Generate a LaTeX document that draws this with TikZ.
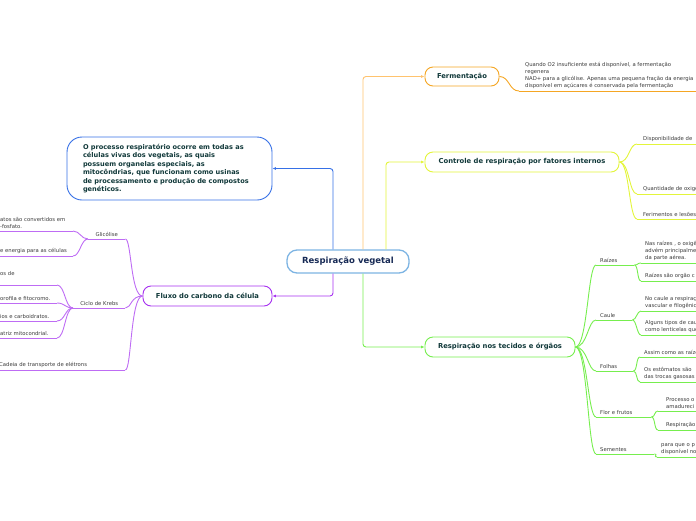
\documentclass[tikz,border=0pt]{standalone}
\usepackage{fontspec}
\setmainfont{DejaVu Sans}
\usetikzlibrary{arrows.meta}
\definecolor{rootline}{HTML}{7DB4E3}
\definecolor{rootink}{HTML}{172A55}
\definecolor{ink}{HTML}{11393A}
\definecolor{leafink}{HTML}{3A3A3A}
\definecolor{bluebr}{HTML}{3670E6}
\definecolor{purplebr}{HTML}{A630F0}
\definecolor{purplesoft}{HTML}{BE6CF4}
\definecolor{orangebr}{HTML}{F5A623}
\definecolor{orangesoft}{HTML}{FFC36E}
\definecolor{yellowbr}{HTML}{E3F53A}
\definecolor{greenbr}{HTML}{76EE4E}
\tikzset{
  box/.style     = {draw, line width=0.9pt, rectangle, rounded corners=8pt, fill=white,
                    inner sep=0pt, minimum height=20pt, text=ink,
                    font=\fontsize{6.8}{8}\selectfont\bfseries},
  rootbox/.style = {box, draw=rootline, line width=1.3pt, rounded corners=10pt, text=rootink,
                    minimum width=122pt, minimum height=23pt, font=\fontsize{8.5}{9}\selectfont\bfseries},
  conn/.style    = {-{Latex[length=3.5pt,width=3pt]}, line width=0.9pt, rounded corners=3pt},
  lbl/.style     = {font=\fontsize{5.3}{7}\selectfont, text=leafink, inner xsep=0pt, inner ysep=2pt,
                    anchor=south west},
  lblr/.style    = {lbl, inner xsep=4pt, align=left},
  leaf/.style    = {lbl, align=left, inner xsep=4pt},
  pleaf/.style   = {leaf, inner xsep=1pt},
  ptw/.style     = {draw=purplesoft, line width=0.9pt},
  otw/.style     = {draw=orangebr, line width=0.9pt},
  ytw/.style     = {draw=yellowbr, line width=0.9pt},
  gtw/.style     = {draw=greenbr, line width=0.9pt},
}
\begin{document}
\begin{tikzpicture}[x=1pt, y=-1pt]
  \useasboundingbox (0,0) rectangle (696,520);
  \clip (0,0) rectangle (696,520);

  \node[rootbox] (root) at (348,261.5) {Respiração vegetal};
  \node[box, draw=bluebr, rounded corners=15pt, minimum width=205pt, minimum height=63pt,
        text width=173pt, align=left, font=\fontsize{6.6}{8.4}\selectfont\bfseries] (proc) at (169.5,168.5)
    {O processo respiratório ocorre em todas as\\células vivas dos vegetais, as quais\\possuem organelas especiais, as\\mitocôndrias, que funcionam como usinas\\de processamento e produção de compostos\\genéticos.};
  \node[box, draw=purplebr, minimum width=129pt] (fluxo) at (207.5,296) {Fluxo do carbono da célula};
  \node[box, draw=orangebr, minimum width=74pt, minimum height=19pt] (ferm) at (462,76.5) {Fermentação};
  \node[box, draw=yellowbr, minimum width=194pt] (ctrl) at (522,162) {Controle de respiração por fatores internos};
  \node[box, draw=greenbr, minimum width=150pt] (tec) at (500,347) {Respiração nos tecidos e órgãos};

  \draw[conn, draw=bluebr] ([xshift=-15pt]root.north) |- (proc.east);
  \draw[conn, draw=purplebr] ([xshift=-15pt]root.south) |- (fluxo.east);
  \draw[conn, draw=orangesoft] ([xshift=15pt]root.north) |- (ferm.west);
  \draw[conn, draw=yellowbr] ([xshift=38pt]root.north) |- (ctrl.west);
  \draw[conn, draw=greenbr] ([xshift=15pt]root.south) |- (tec.west);

  % carbono
  \node[lbl, text width=37pt, align=center] (glic) at (88,239) {Glicólise};
  \node[lbl, text width=52pt, align=center] (krebs) at (73,308) {Ciclo de Krebs};
  \node[lbl, text width=126pt, align=left] (cadeia) at (-1,370) {Cadeia de transporte de elétrons};
  \draw[ptw] (glic.south west) -- (glic.south east);
  \draw[ptw] (krebs.south west) -- (krebs.south east);
  \draw[ptw] (cadeia.south west) -- (cadeia.south east);
  \draw[ptw] (fluxo.west) .. controls +(-12,0) and +(6,0) .. (glic.south east);
  \draw[ptw] (fluxo.west) .. controls +(-12,0) and +(6,0) .. (krebs.south east);
  \draw[ptw] (fluxo.west) .. controls +(-12,0) and +(6,0) .. (cadeia.south east);

  \node[pleaf] (gl1) at (-1,231) {atos são convertidos em\\-fosfato.};
  \node[pleaf] (gl2) at (-1,256) {e energia para as células};
  \coordinate (gl1e) at (73,231);
  \coordinate (gl2e) at (73,256);
  \draw[ptw] (gl1.south west) -- (gl1e);
  \draw[ptw] (gl2.south west) -- (gl2e);
  \draw[ptw] (glic.south west) .. controls +(-7,0) and +(7,0) .. (gl1e);
  \draw[ptw] (glic.south west) .. controls +(-7,0) and +(7,0) .. (gl2e);

  \node[pleaf] (kr1) at (-1,285) {os de\\\mbox{}};
  \node[pleaf] (kr2) at (-1,303) {orofila e fitocromo.};
  \node[pleaf] (kr3) at (-1,321) {ios e carboidratos.};
  \node[pleaf] (kr4) at (-1,338) {atriz mitocondrial.};
  \coordinate (kr1e) at (57,285);
  \coordinate (kr2e) at (57,303);
  \coordinate (kr3e) at (57,321);
  \coordinate (kr4e) at (57,338);
  \foreach \k in {kr1,kr2,kr3,kr4} {
    \draw[ptw] (\k.south west) -- (\k e);
    \draw[ptw] (krebs.south west) .. controls +(-8,0) and +(8,0) .. (\k e);
  }

  % fermentacao
  \node[leaf, inner xsep=6pt] (fe1) at (519,91)
    {Quando O2 insuficiente está disponível, a fermentação\\regenera\\NAD+ para a glicólise. Apenas uma pequena fração da energia\\disponível em açúcares é conservada pela fermentação};
  \draw[otw] (fe1.south west) -- ++(200,0);
  \draw[otw] (ferm.east) .. controls +(10,0) and +(-10,0) .. (fe1.south west);

  % fatores internos
  \node[leaf, inner xsep=6pt] (dsp) at (637,144) {Disponibilidade de};
  \node[leaf, inner xsep=6pt] (qtd) at (637,194) {Quantidade de oxigênio};
  \node[leaf, inner xsep=6pt] (fer) at (637,219) {Ferimentos e lesões};
  \foreach \k in {dsp,qtd,fer} {
    \draw[ytw] (\k.south west) -- ++(80,0);
    \draw[ytw] (ctrl.east) .. controls +(10,0) and +(-8,0) .. (\k.south west);
  }

  % tecidos e orgaos
  \node[lblr, text width=30pt] (raiz) at (596,265) {Raízes};
  \node[lblr, text width=28pt] (caule) at (596,320) {Caule};
  \node[lblr, text width=29pt] (folhas) at (596,371) {Folhas};
  \node[lblr, text width=47pt] (flor) at (596,417) {Flor e frutos};
  \node[lblr, text width=50pt] (sem) at (596,454) {Sementes};
  \foreach \k in {raiz,caule,folhas,flor,sem} {
    \draw[gtw] (\k.south west) -- (\k.south east);
    \draw[gtw] (tec.east) .. controls +(12,0) and +(-8,0) .. (\k.south west);
  }

  \node[leaf] (rz1) at (641,263) {Nas raízes , o oxigênio\\advém principalmente\\da parte aérea.};
  \node[leaf] (rz2) at (641,281) {Raízes são orgão c};
  \node[leaf] (cl1) at (641,311) {No caule a respiração\\vascular e filogênico};
  \node[leaf] (cl2) at (641,335) {Alguns tipos de caule\\como lenticelas que};
  \node[leaf] (fo1) at (640,357) {Assim como as raízes};
  \node[leaf] (fo2) at (640,382) {Os estômatos são\\das trocas gasosas};
  \node[leaf, inner xsep=8pt] (fr1) at (658,411) {Processo o\\amadureci};
  \node[leaf, inner xsep=8pt] (fr2) at (658,430) {Respiração};
  \node[leaf] (se1) at (657,457) {para que o p\\disponível no};
  \foreach \p/\k in {raiz/rz1,raiz/rz2,caule/cl1,caule/cl2,folhas/fo1,folhas/fo2,flor/fr1,flor/fr2,sem/se1} {
    \draw[gtw] (\k.south west) -- ++(80,0);
    \draw[gtw] (\p.south east) .. controls +(4,0) and +(-4,0) .. (\k.south west);
  }
\end{tikzpicture}
\end{document}
